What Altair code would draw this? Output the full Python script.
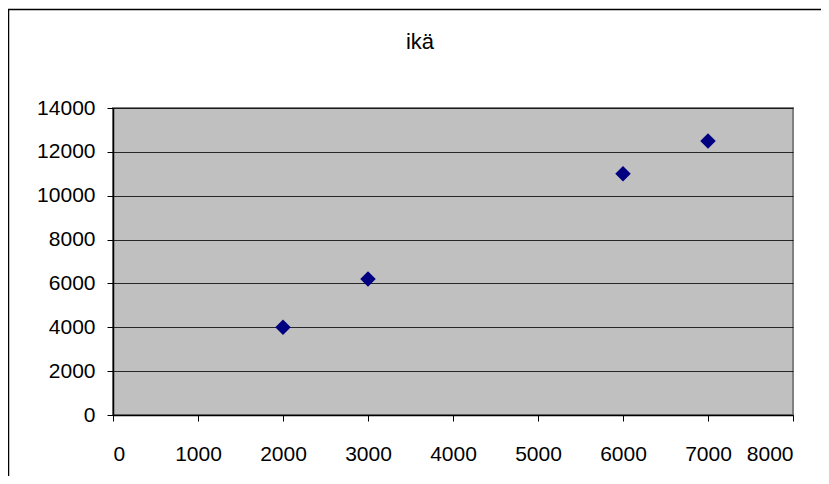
import altair as alt
import pandas as pd

x_vals = [2000, 3000, 6000, 7000]
y_vals = [4000, 6200, 11000, 12500]
title_text = "ikä"

df = pd.DataFrame({"x": x_vals, "y": y_vals})
one = pd.DataFrame({"d": [0]})

frame_left = alt.Chart(one).mark_rule(color="#000000", strokeWidth=1.5, clip=False).encode(
    x=alt.value(-104.5), y=alt.value(-99), y2=alt.value(400)
)
frame_top = alt.Chart(one).mark_rule(color="#000000", strokeWidth=1.5, clip=False).encode(
    x=alt.value(-105), x2=alt.value(750), y=alt.value(-98.5)
)
title = alt.Chart(one).mark_text(
    text=title_text, font="Liberation Sans", fontSize=22, color="#000000",
    align="center", baseline="alphabetic", clip=False
).encode(x=alt.value(307), y=alt.value(-59))

points = alt.Chart(df).mark_point(
    shape="diamond", filled=True, size=240, color="#000080", opacity=1
).encode(
    x=alt.X("x:Q", scale=alt.Scale(domain=[0, 8000], nice=False),
            axis=alt.Axis(values=list(range(0, 8001, 1000)), grid=False, title=None,
                          format="d", labelPadding=22)),
    y=alt.Y("y:Q", scale=alt.Scale(domain=[0, 14000], nice=False),
            axis=alt.Axis(values=list(range(0, 14001, 2000)), grid=True, title=None,
                          format="d", labelPadding=12)),
)

chart = alt.layer(frame_left, frame_top, title, points).properties(
    width=680, height=307,
    padding={"left": 105, "top": 100, "right": 28, "bottom": 61},
    autosize=alt.AutoSizeParams(type="none"),
).configure(
    background="#ffffff",
).configure_view(
    fill="#C0C0C0", stroke="#808080", strokeWidth=2,
).configure_axis(
    labelFont="Liberation Sans", labelFontSize=21, labelColor="#000000",
    domainColor="#000000", domainWidth=1.5, tickColor="#000000", tickSize=6, tickWidth=1,
    gridColor="#000000", gridWidth=1, gridOpacity=0.8,
)

chart.save("out.html", embed_options={"renderer": "svg", "actions": False})
